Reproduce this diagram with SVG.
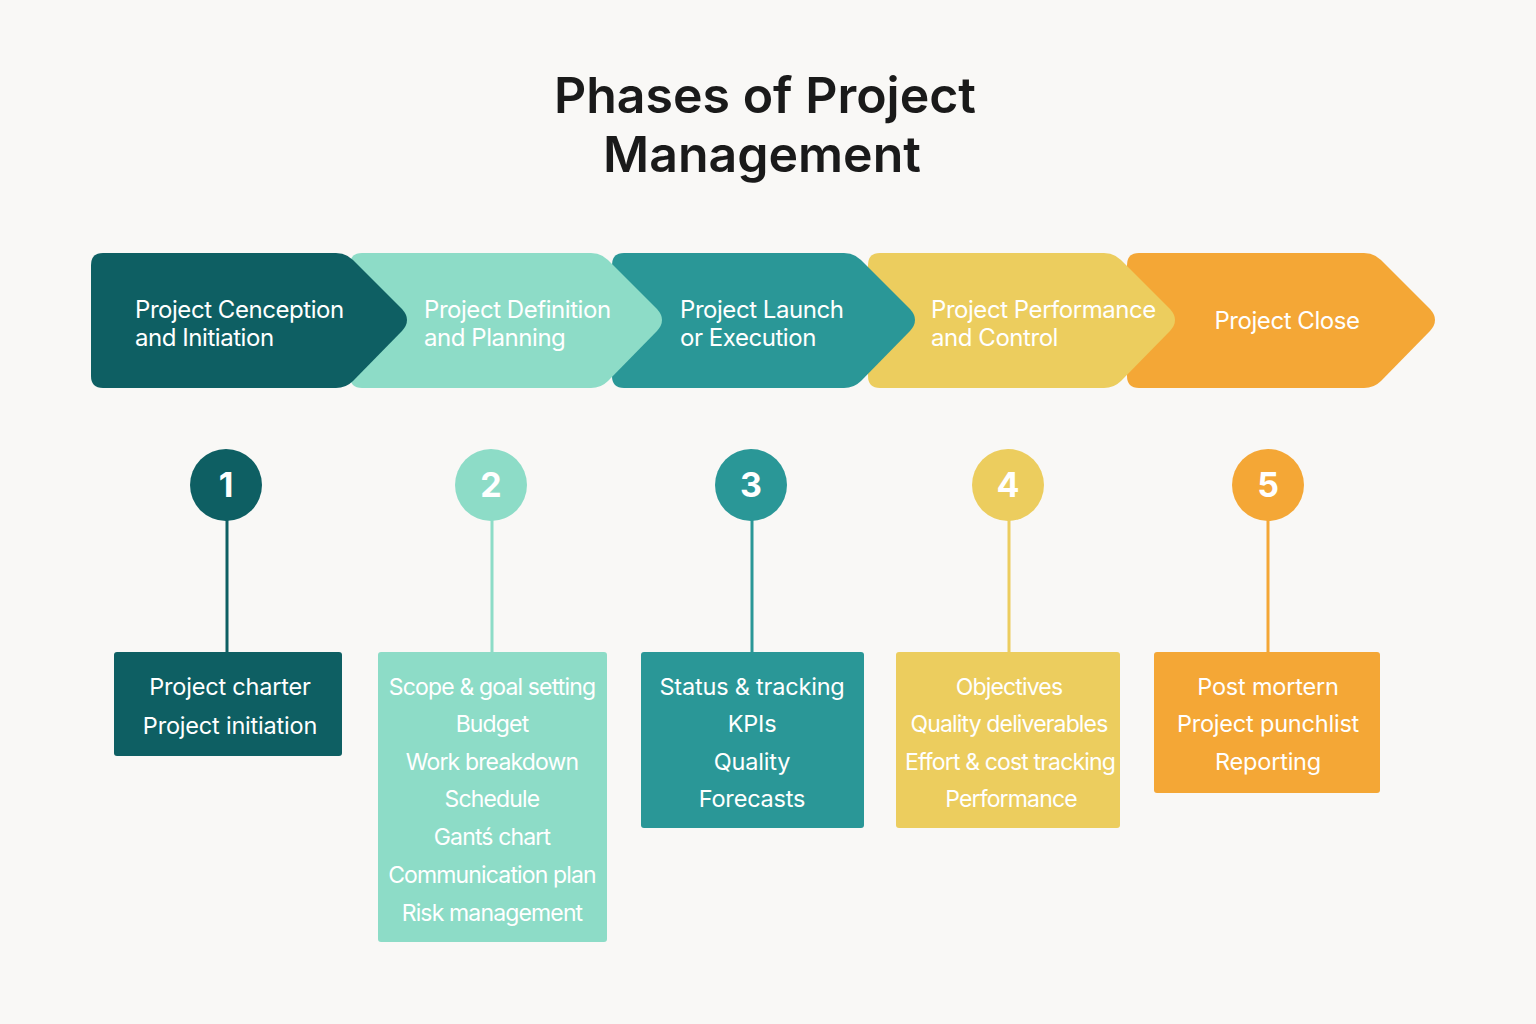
<svg xmlns="http://www.w3.org/2000/svg" width="1536" height="1024" viewBox="0 0 1536 1024">
<style>
text{font-family:Inter,"Noto Sans","Liberation Sans",sans-serif;fill:#fff}
.title{font-size:50px;font-weight:600;fill:#1a1a1a;text-anchor:middle}
.ch{font-size:24px;letter-spacing:-0.45px}
.num{font-size:34px;font-weight:700;text-anchor:middle}
.bx{font-size:23px;letter-spacing:-0.85px;text-anchor:middle}
.bw{font-size:23.5px;letter-spacing:-0.2px;text-anchor:middle}
.c1{fill:#0E5F63}.c2{fill:#8DDCC7}.c3{fill:#2A9797}.c4{fill:#ECCD5E}.c5{fill:#F4A736}
.l1{stroke:#0E5F63}.l2{stroke:#8DDCC7}.l3{stroke:#2A9797}.l4{stroke:#ECCD5E}.l5{stroke:#F4A736}
.conn line{stroke-width:3}
</style>
<rect width="1536" height="1024" fill="#F9F8F6"/>
<g id="title">
<text class="title" x="765" y="113">Phases of Project</text>
<text class="title" x="762" y="172">Management</text>
</g>
<g id="phase5"><path class="c5" d="M1139,253 H1364 Q1374,253 1381,260 L1430,309 Q1440,320 1430,331 L1381,381 Q1374,388 1364,388 H1139 Q1127,388 1127,376 V265 Q1127,253 1139,253 Z"/><text class="ch" x="1287" y="329" text-anchor="middle">Project Close</text></g>
<g id="phase4"><path class="c4" d="M880,253 H1104 Q1114,253 1121,260 L1170,309 Q1180,320 1170,331 L1121,381 Q1114,388 1104,388 H880 Q868,388 868,376 V265 Q868,253 880,253 Z"/><text class="ch" x="931" y="318">Project Performance</text><text class="ch" x="931" y="346">and Control</text></g>
<g id="phase3"><path class="c3" d="M624,253 H844 Q854,253 861,260 L910,309 Q920,320 910,331 L861,381 Q854,388 844,388 H624 Q612,388 612,376 V265 Q612,253 624,253 Z"/><text class="ch" x="680" y="318">Project Launch</text><text class="ch" x="680" y="346">or Execution</text></g>
<g id="phase2"><path class="c2" d="M362,253 H591 Q601,253 608,260 L657,309 Q667,320 657,331 L608,381 Q601,388 591,388 H362 Q350,388 350,376 V265 Q350,253 362,253 Z"/><text class="ch" x="424" y="318">Project Definition</text><text class="ch" x="424" y="346">and Planning</text></g>
<g id="phase1"><path class="c1" d="M103,253 H336 Q346,253 353,260 L402,309 Q412,320 402,331 L353,381 Q346,388 336,388 H103 Q91,388 91,376 V265 Q91,253 103,253 Z"/><text class="ch" x="135" y="318">Project Cenception</text><text class="ch" x="135" y="346">and Initiation</text></g>
<g id="connectors" class="conn">
<line class="l1" x1="227" y1="520" x2="227" y2="653"/>
<line class="l2" x1="492" y1="520" x2="492" y2="653"/>
<line class="l3" x1="752" y1="520" x2="752" y2="653"/>
<line class="l4" x1="1009" y1="520" x2="1009" y2="653"/>
<line class="l5" x1="1268" y1="520" x2="1268" y2="653"/>
</g>
<g id="step1"><circle class="c1" cx="226" cy="485" r="36"/><text class="num" x="226" y="497">1</text></g>
<g id="step2"><circle class="c2" cx="491" cy="485" r="36"/><text class="num" x="491" y="497">2</text></g>
<g id="step3"><circle class="c3" cx="751" cy="485" r="36"/><text class="num" x="751" y="497">3</text></g>
<g id="step4"><circle class="c4" cx="1008" cy="485" r="36"/><text class="num" x="1008" y="497">4</text></g>
<g id="step5"><circle class="c5" cx="1268" cy="485" r="36"/><text class="num" x="1268" y="497">5</text></g>
<g id="box1"><rect class="c1" x="114" y="652" width="228" height="104" rx="3"/>
<text class="bw" x="230" y="695">Project charter</text><text class="bw" x="230" y="734">Project initiation</text></g>
<g id="box2"><rect class="c2" x="378" y="652" width="229" height="290" rx="3"/>
<text class="bx" x="492" y="695">Scope &amp; goal setting</text><text class="bx" x="492" y="732">Budget</text><text class="bx" x="492" y="770">Work breakdown</text><text class="bx" x="492" y="807">Schedule</text><text class="bx" x="492" y="845">Gantś chart</text><text class="bx" x="492" y="883">Communication plan</text><text class="bx" x="492" y="921">Risk management</text></g>
<g id="box3"><rect class="c3" x="641" y="652" width="223" height="176" rx="3"/>
<text class="bw" x="752" y="695">Status &amp; tracking</text><text class="bw" x="752" y="732">KPIs</text><text class="bw" x="752" y="770">Quality</text><text class="bw" x="752" y="807">Forecasts</text></g>
<g id="box4"><rect class="c4" x="896" y="652" width="224" height="176" rx="3"/>
<text class="bx" x="1009" y="695">Objectives</text><text class="bx" x="1009" y="732">Quality deliverables</text><text class="bx" x="1010" y="770">Effort &amp; cost tracking</text><text class="bx" x="1011" y="807">Performance</text></g>
<g id="box5"><rect class="c5" x="1154" y="652" width="226" height="141" rx="3"/>
<text class="bw" x="1268" y="695">Post mortern</text><text class="bw" x="1268" y="732">Project punchlist</text><text class="bw" x="1268" y="770">Reporting</text></g>
</svg>
